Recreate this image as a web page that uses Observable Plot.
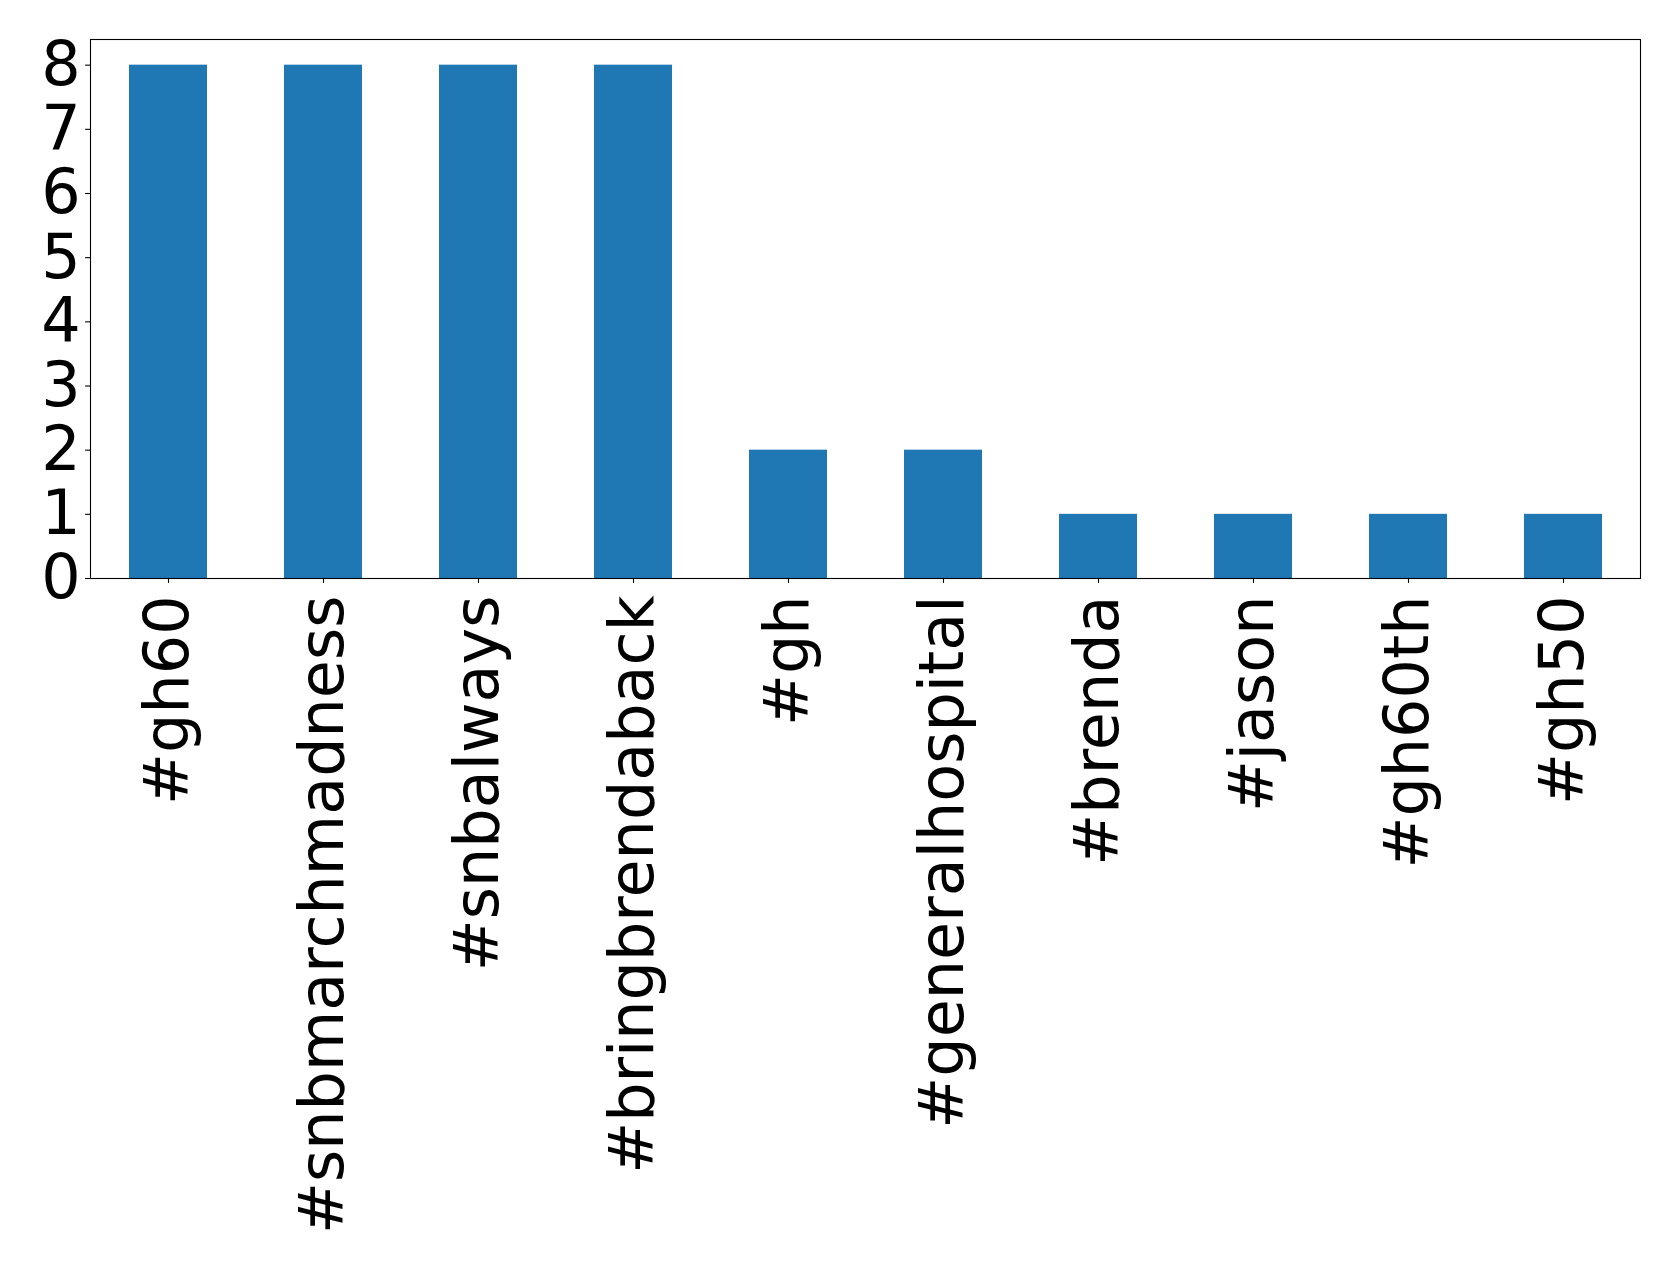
<!DOCTYPE html>
<html>
<head>
<meta charset="utf-8">
<script src="https://cdn.jsdelivr.net/npm/d3@7"></script>
<script src="https://cdn.jsdelivr.net/npm/@observablehq/plot@0.6"></script>
<style>
  html, body { margin: 0; padding: 0; background: #fff; }
  #chart svg { display: block; }
</style>
</head>
<body>
<div id="chart"></div>
<script>
const hashtags = ["#gh60", "#snbmarchmadness", "#snbalways", "#bringbrendaback", "#gh", "#generalhospital", "#brenda", "#jason", "#gh60th", "#gh50"];
const counts = [8, 8, 8, 8, 2, 2, 1, 1, 1, 1];
const yTicks = [0, 1, 2, 3, 4, 5, 6, 7, 8];

const data = hashtags.map((h, i) => ({tag: h, count: counts[i]}));

const chart = Plot.plot({
  width: 1679,
  height: 1271,
  marginLeft: 90,
  marginRight: 39,
  marginTop: 39,
  marginBottom: 693,
  style: {fontFamily: "DejaVu Sans", fontSize: "62px", color: "#000", background: "#fff"},
  x: {type: "band", domain: hashtags, paddingInner: 0.5, paddingOuter: 0.25, align: 0.5},
  y: {domain: [0, 8.4]},
  marks: [
    Plot.barY(data, {x: "tag", y: "count", fill: "#1f77b4", inset: 0}),
    Plot.frame({stroke: "#000", strokeWidth: 1.1}),
    Plot.axisY({ticks: yTicks, tickSize: 4.9, tickPadding: 4.9, fontSize: 62, tickFormat: d => String(d), label: null, stroke: "#000", strokeWidth: 1.1}),
    Plot.axisX({tickRotate: -90, tickSize: 4.9, tickPadding: 12, fontSize: 62, label: null, stroke: "#000", strokeWidth: 1.1})
  ]
});
document.getElementById("chart").appendChild(chart);
</script>
</body>
</html>
